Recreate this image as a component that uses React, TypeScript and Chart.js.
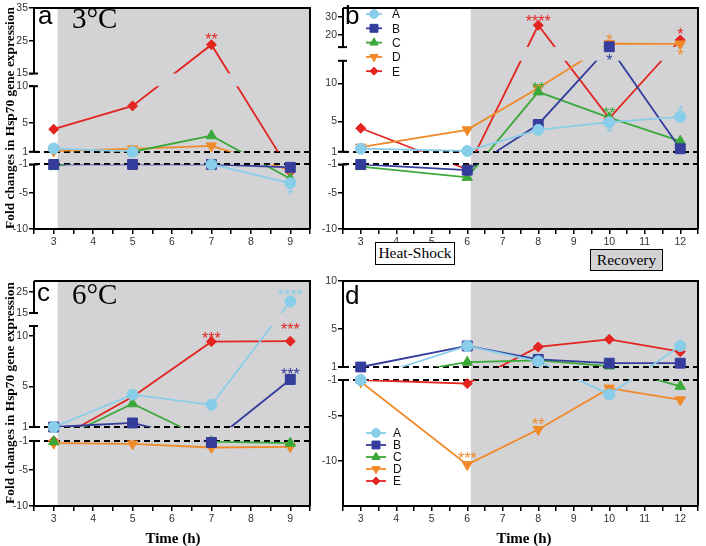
import React, { useEffect, useRef } from 'react';
import { Chart, registerables } from 'chart.js';
import { drawPoint } from 'chart.js/helpers';

Chart.register(...registerables);

// ---------- series ----------
const SERIES_NAMES = ['A', 'B', 'C', 'D', 'E'];
const SERIES_COLORS = ['#88CDE9', '#343D9C', '#3AA93A', '#F08A28', '#E3241F'];
const POINT_STYLES = ['circle', 'rect', 'triangle', 'triangle', 'rectRot'];
const POINT_ROTATIONS = [0, 0, 0, 180, 0];
const POINT_RADII = [5.5, 7, 6, 6, 5];

// ---------- panel a (3°C) ----------
const timesA = [3, 5, 7, 9];
const a_A = [1.45, 1.0, -1.0, -3.6];
const a_B = [-1.0, -1.0, -1.0, -1.4];
const a_C = [-1.3, 1.0, 3.2, -3.0];
const a_D = [1.1, 1.4, 1.8, -1.8];
const a_E = [4.1, 7.3, 23.8, -2.0];
const ticksA = [-10, -5, -1, 1, 5, 10, 15, 25, 35];

// ---------- panel b ----------
const timesB = [3, 6, 8, 10, 12];
const b_A = [1.4, 1.1, 3.9, 4.9, 5.6];
const b_B = [-1.0, -1.8, 4.6, 13.2, 1.4];
const b_C = [-1.3, -2.8, 8.9, 5.5, 2.4];
const b_D = [1.6, 3.9, 9.4, 15.0, 14.8];
const b_E = [4.1, -1.7, 25.3, 5.4, 17.0];
const ticksB = [-10, -5, -1, 1, 5, 10, 20, 30];

// ---------- panel c (6°C) ----------
const timesC = [3, 5, 7, 9];
const c_A = [1.0, 4.2, 3.2, 20.4];
const c_B = [1.0, 1.4, -1.2, 5.7];
const c_C = [-1.1, 3.3, -1.1, -1.3];
const c_D = [-1.3, -1.4, -1.9, -1.8];
const c_E = [-1.0, 4.0, 9.45, 9.5];
const ticksC = [-10, -5, -1, 1, 5, 10, 15, 25];

// ---------- panel d ----------
const timesD = [3, 6, 8, 10, 12];
const d_A = [-1.0, 3.2, 1.6, -2.6, 3.2];
const d_B = [1.0, 3.2, 1.8, 1.4, 1.4];
const d_C = [-1.0, 1.5, 1.7, 1.1, -1.7];
const d_D = [-1.2, -10.4, -6.5, -1.9, -3.2];
const d_E = [-1.0, -1.4, 3.1, 3.9, 2.6];
const ticksD = [-10, -5, -1, 1, 5, 10];

// significance marks: series index, point index, text, offset
const annA = [
  { s: 4, i: 2, t: '**', dy: -9 },
  { s: 0, i: 3, t: '*', dy: 9 },
];
const annB = [
  { s: 4, i: 2, t: '****', dy: -7 },
  { s: 3, i: 3, t: '*', dy: -7 },
  { s: 1, i: 3, t: '*', dy: 10 },
  { s: 4, i: 4, t: '*', dy: -9 },
  { s: 3, i: 4, t: '*', dy: 8 },
  { s: 2, i: 2, t: '**', dy: -7 },
  { s: 2, i: 3, t: '**', dy: -8 },
  { s: 0, i: 3, t: '*', dy: 8 },
  { s: 0, i: 4, t: '*', dy: -9 },
];
const annC = [
  { s: 0, i: 3, t: '****', dy: -9 },
  { s: 4, i: 3, t: '***', dy: -15 },
  { s: 4, i: 2, t: '***', dy: -7 },
  { s: 1, i: 3, t: '***', dy: -9 },
];
const annD = [
  { s: 3, i: 1, t: '***', dy: -10 },
  { s: 3, i: 2, t: '**', dy: -9 },
];

type Seg = { lo: number; hi: number; px: number; gap: number };

const PANELS = [
  {
    times: timesA, series: [a_A, a_B, a_C, a_D, a_E], ticks: ticksA, ann: annA,
    xMin: 2.5, xMax: 9.5, shadeFrom: 3.1,
    area: { L: 34, T: 3, R: 310, B: 229 },
    segs: [
      { lo: -10, hi: -1, px: 66, gap: 13 },
      { lo: 1, hi: 10, px: 67, gap: 13 },
      { lo: 15, hi: 35, px: 67, gap: 0 },
    ] as Seg[],
    legend: null,
  },
  {
    times: timesB, series: [b_A, b_B, b_C, b_D, b_E], ticks: ticksB, ann: annB,
    xMin: 2.5, xMax: 12.5, shadeFrom: 6.1,
    area: { L: 343, T: 3, R: 705, B: 229 },
    segs: [
      { lo: -10, hi: -1, px: 66, gap: 13 },
      { lo: 1, hi: 13, px: 93, gap: 14 },
      { lo: 13, hi: 35, px: 40, gap: 0 },
    ] as Seg[],
    legend: { x: 366, y: 14, dy: 14.3, len: 16, tx: 392 },
  },
  {
    times: timesC, series: [c_A, c_B, c_C, c_D, c_E], ticks: ticksC, ann: annC,
    xMin: 2.5, xMax: 9.5, shadeFrom: 3.1,
    area: { L: 34, T: 281, R: 310, B: 506 },
    segs: [
      { lo: -10, hi: -1, px: 65, gap: 14 },
      { lo: 1, hi: 11, px: 101, gap: 13 },
      { lo: 15, hi: 30, px: 32, gap: 0 },
    ] as Seg[],
    legend: null,
  },
  {
    times: timesD, series: [d_A, d_B, d_C, d_D, d_E], ticks: ticksD, ann: annD,
    xMin: 2.5, xMax: 12.5, shadeFrom: 6.1,
    area: { L: 343, T: 281, R: 705, B: 506 },
    segs: [
      { lo: -15, hi: -1, px: 126, gap: 13 },
      { lo: 1, hi: 10, px: 86, gap: 0 },
    ] as Seg[],
    legend: { x: 366, y: 433, dy: 12, len: 20, tx: 393 },
  },
];

function makeMapper(segs: Seg[]) {
  const bases: number[] = [];
  let acc = 0;
  segs.forEach((s) => { bases.push(acc); acc += s.px + s.gap; });
  const total = acc;
  const toV = (val: number) => {
    for (let i = 0; i < segs.length; i++) {
      const s = segs[i];
      if (val >= s.lo && val <= s.hi) return bases[i] + ((val - s.lo) / (s.hi - s.lo)) * s.px;
    }
    for (let i = 0; i < segs.length - 1; i++) {
      const s = segs[i], n = segs[i + 1];
      if (val > s.hi && val < n.lo) return bases[i] + s.px + ((val - s.hi) / (n.lo - s.hi)) * s.gap;
    }
    if (val < segs[0].lo) return ((val - segs[0].lo) / (segs[0].hi - segs[0].lo)) * segs[0].px;
    const l = segs.length - 1, s = segs[l];
    return bases[l] + ((val - s.lo) / (s.hi - s.lo)) * s.px;
  };
  return { toV, total, bases };
}

const SANS = "'Liberation Sans', Arial, sans-serif";
const SERIF = "'Liberation Serif', 'Times New Roman', serif";
const Y_AXIS_W = 30;
const X_AXIS_H = 20;

function buildConfig(p: (typeof PANELS)[number]): any {
  const { toV, total, bases } = makeMapper(p.segs);
  const datasets: any[] = [];
  p.series.forEach((vals, s) => {
    const pts = vals.map((v, i) => ({ x: p.times[i], y: toV(v) }));
    datasets.push({
      label: SERIES_NAMES[s] + ' line', data: pts, borderColor: SERIES_COLORS[s],
      borderWidth: 1.8, pointRadius: 0, fill: false, tension: 0, order: 2, clipBreak: true,
    });
  });
  p.series.forEach((vals, s) => {
    const pts = vals.map((v, i) => ({ x: p.times[i], y: toV(v) }));
    datasets.push({
      label: SERIES_NAMES[s], data: pts, showLine: false,
      pointStyle: POINT_STYLES[s], pointRotation: POINT_ROTATIONS[s], pointRadius: POINT_RADII[s],
      backgroundColor: SERIES_COLORS[s], borderColor: SERIES_COLORS[s], borderWidth: 1, order: 1,
    });
  });

  const segPix = (chart: any) => {
    const y = chart.scales.y;
    return p.segs.map((s, i) => ({
      top: y.getPixelForValue(bases[i] + s.px),
      bottom: y.getPixelForValue(bases[i]),
    }));
  };

  const plugin = {
    id: 'brokenAxis',
    beforeDraw(chart: any) {
      const { ctx, chartArea: a } = chart;
      const x0 = chart.scales.x.getPixelForValue(p.shadeFrom);
      ctx.save();
      ctx.fillStyle = '#d3d3d5';
      ctx.fillRect(x0, a.top, a.right - x0, a.bottom - a.top);
      ctx.restore();
    },
    beforeDatasetsDraw(chart: any) {
      const { ctx, chartArea: a } = chart;
      const y = chart.scales.y;
      ctx.save();
      // dashed reference lines at 1 and -1
      ctx.strokeStyle = '#000';
      ctx.lineWidth = 2;
      ctx.setLineDash([6, 4]);
      [1, -1].forEach((v) => {
        const py = Math.round(y.getPixelForValue(toV(v)));
        ctx.beginPath();
        ctx.moveTo(a.left, py);
        ctx.lineTo(a.right, py);
        ctx.stroke();
      });
      ctx.setLineDash([]);
      // frame top & right
      ctx.beginPath();
      ctx.moveTo(a.left, a.top);
      ctx.lineTo(a.right, a.top);
      ctx.lineTo(a.right, a.bottom);
      ctx.stroke();
      // broken y axis
      const sp = segPix(chart);
      sp.forEach((r, i) => {
        ctx.beginPath();
        ctx.moveTo(a.left, r.top);
        ctx.lineTo(a.left, r.bottom + (i === 0 ? 1 : 0));
        ctx.stroke();
        if (i > 0) {
          ctx.beginPath();
          ctx.moveTo(a.left - 5, r.bottom);
          ctx.lineTo(a.left + 4, r.bottom);
          ctx.stroke();
        }
        if (i < sp.length - 1) {
          ctx.beginPath();
          ctx.moveTo(a.left - 5, r.top);
          ctx.lineTo(a.left + 4, r.top);
          ctx.stroke();
        }
      });
      ctx.restore();
    },
    beforeDatasetDraw(chart: any, args: any) {
      const ds = chart.data.datasets[args.index];
      if (!ds.clipBreak) return;
      const { ctx, chartArea: a } = chart;
      ctx.save();
      ctx.beginPath();
      segPix(chart).forEach((r) => ctx.rect(a.left, r.top, a.right - a.left, r.bottom - r.top));
      ctx.clip();
    },
    afterDatasetDraw(chart: any, args: any) {
      const ds = chart.data.datasets[args.index];
      if (!ds.clipBreak) return;
      chart.ctx.restore();
    },
    afterDatasetsDraw(chart: any) {
      const { ctx } = chart;
      ctx.save();
      ctx.font = `16px ${SANS}`;
      ctx.textAlign = 'center';
      ctx.textBaseline = 'alphabetic';
      p.ann.forEach((an) => {
        const px = chart.scales.x.getPixelForValue(p.times[an.i]);
        const py = chart.scales.y.getPixelForValue(toV(p.series[an.s][an.i]));
        ctx.fillStyle = SERIES_COLORS[an.s];
        ctx.fillText(an.t, px, py + an.dy + 9);
      });
      ctx.restore();
    },
    afterDraw(chart: any) {
      const lg = p.legend;
      if (!lg) return;
      const { ctx } = chart;
      ctx.save();
      SERIES_NAMES.forEach((name, s) => {
        const yy = lg.y + s * lg.dy;
        ctx.strokeStyle = SERIES_COLORS[s];
        ctx.fillStyle = SERIES_COLORS[s];
        ctx.lineWidth = 1.8;
        ctx.beginPath();
        ctx.moveTo(lg.x, yy);
        ctx.lineTo(lg.x + lg.len, yy);
        ctx.stroke();
        ctx.lineWidth = 1;
        drawPoint(ctx, { pointStyle: POINT_STYLES[s], rotation: POINT_ROTATIONS[s], radius: POINT_RADII[s] * 0.8, borderWidth: 1 } as any, lg.x + lg.len / 2, yy);
        ctx.fillStyle = '#111';
        ctx.font = `12px ${SANS}`;
        ctx.textAlign = 'left';
        ctx.textBaseline = 'middle';
        ctx.fillText(name, lg.tx, yy + 1);
      });
      ctx.restore();
    },
  };

  const tickFont = { family: SANS, size: 10.5 };
  return {
    type: 'line',
    data: { datasets },
    plugins: [plugin],
    options: {
      animation: false,
      responsive: false,
      events: [],
      layout: {
        padding: {
          left: p.area.L - Y_AXIS_W,
          top: p.area.T,
          right: 706 - p.area.R,
          bottom: 546 - p.area.B - X_AXIS_H,
        },
      },
      plugins: { legend: { display: false }, tooltip: { enabled: false } },
      scales: {
        x: {
          type: 'linear', min: p.xMin, max: p.xMax,
          afterFit: (s: any) => { s.height = X_AXIS_H; s.paddingLeft = 0; s.paddingRight = 0; },
          border: { display: true, color: '#000', width: 2 },
          grid: { display: true, drawOnChartArea: false, color: '#000', tickLength: 5, lineWidth: 1.5 },
          ticks: {
            stepSize: 0.5, autoSkip: false, maxRotation: 0, padding: 2, color: '#333', font: tickFont,
            callback: (v: number) => (Number.isInteger(v) ? String(v) : ''),
          },
        },
        y: {
          type: 'linear', min: 0, max: total,
          afterFit: (s: any) => { s.width = Y_AXIS_W; s.paddingTop = 0; s.paddingBottom = 0; },
          afterBuildTicks: (s: any) => { s.ticks = p.ticks.map((t) => ({ value: toV(t) })); },
          border: { display: false },
          grid: { display: true, drawOnChartArea: false, color: '#000', tickLength: 5, lineWidth: 1.5 },
          ticks: {
            autoSkip: false, padding: 1, color: '#333', font: tickFont,
            callback: (_v: number, idx: number) => String(p.ticks[idx]),
          },
        },
      },
    },
  };
}

function PanelChart({ idx }: { idx: number }) {
  const ref = useRef<HTMLCanvasElement>(null);
  useEffect(() => {
    const chart = new Chart(ref.current as HTMLCanvasElement, buildConfig(PANELS[idx]));
    return () => chart.destroy();
  }, [idx]);
  return (
    <canvas
      ref={ref}
      width={706}
      height={546}
      style={{ position: 'absolute', left: 0, top: 0, width: 706, height: 546 }}
    />
  );
}

const abs = (o: React.CSSProperties): React.CSSProperties => ({ position: 'absolute', whiteSpace: 'nowrap', ...o });

export default function App() {
  const yTitle = 'Fold changes in Hsp70 gene expression';
  return (
    <div style={{ position: 'fixed', left: 0, top: 0, width: 706, height: 546, background: '#fff', overflow: 'hidden' }}>
      {[0, 1, 2, 3].map((i) => <PanelChart key={i} idx={i} />)}
      {/* y titles */}
      <div style={abs({ left: 10, top: 118, transform: 'translate(-50%, -50%) rotate(-90deg)', font: `bold 13.4px ${SERIF}`, color: '#000' })}>{yTitle}</div>
      <div style={abs({ left: 10, top: 393, transform: 'translate(-50%, -50%) rotate(-90deg)', font: `bold 13.4px ${SERIF}`, color: '#000' })}>{yTitle}</div>
      {/* x titles */}
      <div style={abs({ left: 173, top: 538, transform: 'translate(-50%, -50%)', font: `bold 15px ${SERIF}`, color: '#000' })}>Time (h)</div>
      <div style={abs({ left: 524, top: 538, transform: 'translate(-50%, -50%)', font: `bold 15px ${SERIF}`, color: '#000' })}>Time (h)</div>
      {/* panel letters */}
      <div style={abs({ left: 38, top: 0, font: `26px ${SANS}`, color: '#000', lineHeight: '30px' })}>a</div>
      <div style={abs({ left: 345, top: 0, font: `26px ${SANS}`, color: '#000', lineHeight: '30px' })}>b</div>
      <div style={abs({ left: 37, top: 277, font: `26px ${SANS}`, color: '#000', lineHeight: '30px' })}>c</div>
      <div style={abs({ left: 345, top: 280, font: `26px ${SANS}`, color: '#000', lineHeight: '30px' })}>d</div>
      {/* temperatures */}
      <div style={abs({ left: 72, top: 2, font: `29px ${SERIF}`, color: '#000', lineHeight: '32px' })}>3°C</div>
      <div style={abs({ left: 72, top: 278, font: `29px ${SERIF}`, color: '#000', lineHeight: '32px' })}>6°C</div>
      {/* phase boxes */}
      <div style={abs({ left: 375, top: 242, width: 80, height: 23, boxSizing: 'border-box', border: '1.5px solid #000', background: '#fff', font: `15.5px ${SERIF}`, textAlign: 'center', lineHeight: '20px', color: '#000' })}>Heat-Shock</div>
      <div style={abs({ left: 590, top: 249, width: 73, height: 22, boxSizing: 'border-box', border: '1.5px solid #000', background: '#d3d3d5', font: `15.5px ${SERIF}`, textAlign: 'center', lineHeight: '19px', color: '#000' })}>Recovery</div>
    </div>
  );
}
